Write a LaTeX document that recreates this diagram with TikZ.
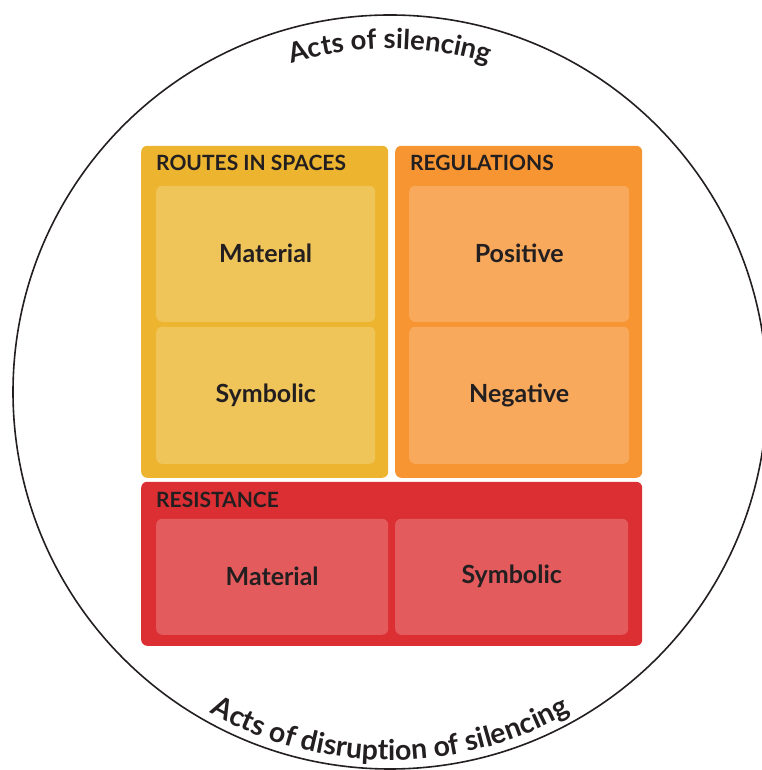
\documentclass[tikz,border=0pt]{standalone}
\usepackage{fontspec}
\setmainfont{Lato}
\usetikzlibrary{positioning,decorations.text}

\definecolor{ink}{HTML}{231F20}
\definecolor{routesout}{HTML}{EDB52F}
\definecolor{routesin}{HTML}{EFC459}
\definecolor{regout}{HTML}{F69532}
\definecolor{regin}{HTML}{F8A95C}
\definecolor{resout}{HTML}{DC2F33}
\definecolor{resin}{HTML}{E35B5C}

\begin{document}
\begin{tikzpicture}[x=1pt, y=1pt,
  outerbox/.style={rounded corners=6pt, inner sep=0pt, anchor=south west},
  innerbox/.style={rounded corners=6pt, inner sep=0pt, anchor=south west, text=ink,
    font=\bfseries\fontsize{25}{25}\selectfont},
  heading/.style={anchor=base west, inner sep=0pt, text=ink,
    font=\bfseries\fontsize{21}{21}\selectfont}]

\def\rad{377}

\path [use as bounding box] (0,0) rectangle (761,770);

% CIRCLE
\node [circle, draw=ink, line width=1.6pt, minimum size=2*\rad pt, inner sep=0pt] (rim) at (390,378) {};

\path [decorate, decoration={text along path, text align=center,
  text={|\color{ink}\bfseries\fontsize{27.5}{27.5}\selectfont|Acts of silencing}}]
  (rim.center) ++(160:343) arc[start angle=160, end angle=20, radius=343];
\path [decorate, decoration={text along path, text align=center,
  text={|\color{ink}\bfseries\fontsize{28.5}{28.5}\selectfont|Acts of disruption of silencing}}]
  (rim.center) ++(200:368) arc[start angle=200, end angle=340, radius=368];

% ROUTES IN SPACES
\node [outerbox, fill=routesout, minimum width=247pt, minimum height=332pt] (routes) at (141,292) {};
\node [heading] (routeshead) at (156,599) {ROUTES IN SPACES};
\node [innerbox, fill=routesin, minimum width=219pt, minimum height=136pt] (routesmat) at (156,448) {Material};
\node [innerbox, fill=routesin, minimum width=219pt, minimum height=137pt] (routessym) at (156,306) {Symbolic};

% REGULATIONS
\node [outerbox, fill=regout, minimum width=247pt, minimum height=332pt] (regs) at (395,292) {};
\node [heading] (regshead) at (410,599) {REGULATIONS};
\node [innerbox, fill=regin, minimum width=220pt, minimum height=136pt] (regspos) at (409,448) {Positive};
\node [innerbox, fill=regin, minimum width=220pt, minimum height=137pt] (regsneg) at (409,306) {Negative};

% RESISTANCE
\node [outerbox, fill=resout, minimum width=501pt, minimum height=164pt] (resist) at (141,124) {};
\node [heading] (resisthead) at (156,262) {RESISTANCE};
\node [innerbox, fill=resin, minimum width=232pt, minimum height=116pt] (resistmat) at (156,135) {Material};
\node [innerbox, fill=resin, minimum width=233pt, minimum height=116pt] (resistsym) at (395,135) {Symbolic};

\end{tikzpicture}
\end{document}
